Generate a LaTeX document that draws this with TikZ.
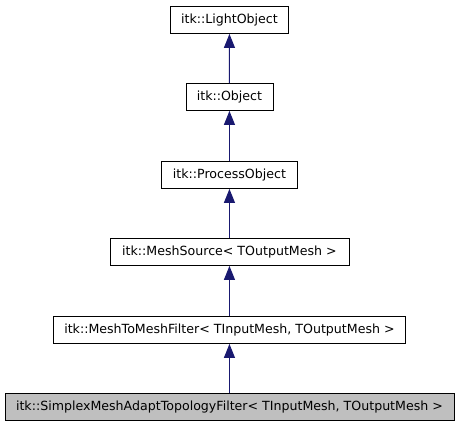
\documentclass[tikz,border=0pt]{standalone}
\usepackage{fontspec}
\setmainfont{DejaVu Sans}
\usetikzlibrary{arrows.meta}
\definecolor{edgeblue}{HTML}{191970}
\definecolor{hlgray}{HTML}{BFBFBF}
\begin{document}
\begin{tikzpicture}[x=1bp,y=-1bp,
  cls/.style={draw=black,line width=0.9bp,fill=white,minimum height=27bp,inner sep=0pt,
    font=\fontsize{12.6bp}{15bp}\selectfont,text=black,anchor=north west},
  inh/.style={draw=edgeblue,line width=1bp,-{Triangle[length=14bp,width=11bp,fill=edgeblue]}}]
\useasboundingbox (0,0) rectangle (459,427);
\node[cls,minimum width=118bp] (lo) at (170,6) {itk::LightObject};
\node[cls,minimum width=87bp] (ob) at (185.5,83) {itk::Object};
\node[cls,minimum width=136bp] (po) at (161,161) {itk::ProcessObject};
\node[cls,minimum width=239bp] (ms) at (109.5,238) {itk::MeshSource< TOutputMesh >};
\node[cls,minimum width=352bp] (mm) at (53,316) {itk::MeshToMeshFilter< TInputMesh, TOutputMesh >};
\node[cls,minimum width=449bp,fill=hlgray] (sm) at (4.5,393) {itk::SimplexMeshAdaptTopologyFilter< TInputMesh, TOutputMesh >};
\draw[inh] (ob.north) -- (lo.south);
\draw[inh] (po.north) -- (po.north |- ob.south);
\draw[inh] (ms.north) -- (ms.north |- po.south);
\draw[inh] (mm.north) -- (mm.north |- ms.south);
\draw[inh] (sm.north) -- (sm.north |- mm.south);
\end{tikzpicture}
\end{document}
